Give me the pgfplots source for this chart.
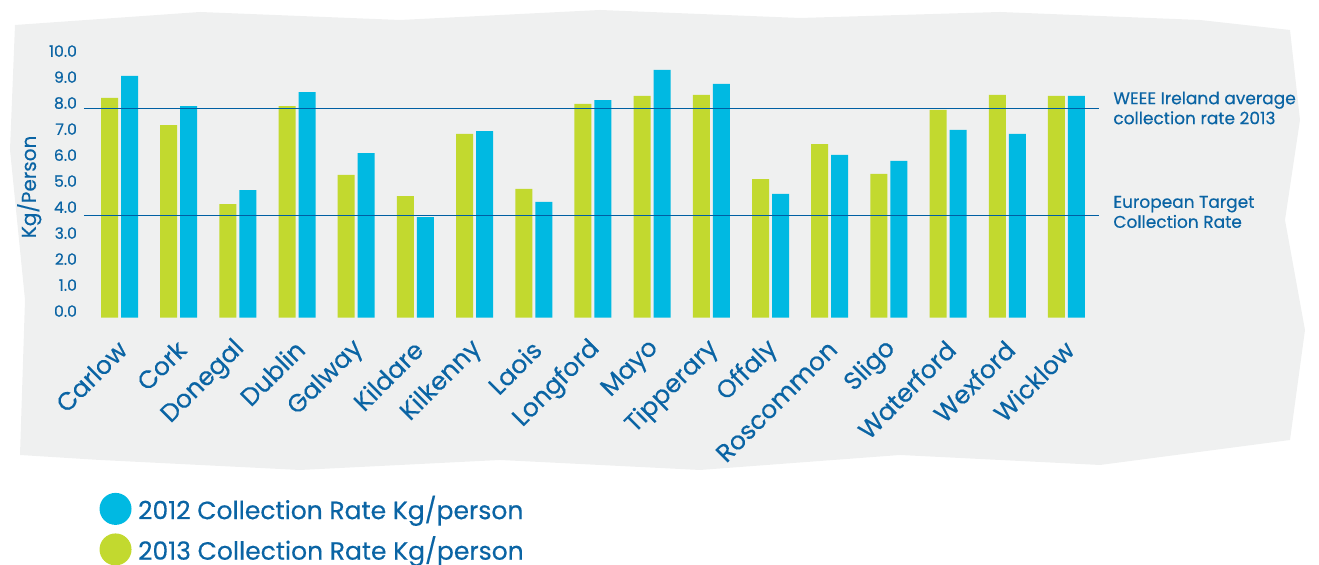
\documentclass[border=0pt]{standalone}
\usepackage{pgfplots}
\pgfplotsset{compat=1.18}
\usepackage{fontspec}
\setmainfont{Poppins}[FakeBold=0.4]
\definecolor{limegreen}{HTML}{C2D92F}
\definecolor{cyanblue}{HTML}{00B9E2}
\definecolor{textblue}{HTML}{0A64A4}
\definecolor{lineblue}{HTML}{005FA3}
\definecolor{paper}{HTML}{EFF0F0}
\begin{document}
\begin{tikzpicture}
% page frame (1 px of the reference = 0.5pt)
\useasboundingbox (0pt,0pt) rectangle (659.5pt,282.5pt);
\begin{scope}[x=0.5pt,y=0.5pt]
  \fill[paper] (15,540) -- (200,553) -- (400,545) -- (600,555) -- (800,547)
    -- (1000,553) -- (1200,545) -- (1290,535) -- (1300,445) -- (1285,345)
    -- (1305,235) -- (1290,125) -- (1100,100) -- (900,110) -- (700,95)
    -- (500,105) -- (300,95) -- (100,105) -- (20,110) -- (25,265) -- (10,415) -- cycle;
\end{scope}
\begin{axis}[
    at={(42pt,123.65pt)}, anchor=south west,
    scale only axis,
    width=507.5pt, height=130pt,
    xmin=-0.6, xmax=16.55,
    ymin=0, ymax=10,
    ybar, bar width=8.5pt,
    axis line style={draw=none},
    tick style={draw=none},
    ytick={0,1,...,10},
    /pgf/number format/fixed,
    /pgf/number format/fixed zerofill,
    /pgf/number format/precision=1,
    /pgf/number format/assume math mode=true,
    yticklabel style={font=\fontsize{7.8}{9}\selectfont, text=textblue, yshift=3.3pt},
    xtick={0,1,...,16},
    xticklabels={Carlow,Cork,Donegal,Dublin,Galway,Kildare,Kilkenny,Laois,Longford,
                 Mayo,Tipperary,Offaly,Roscommon,Sligo,Waterford,Wexford,Wicklow},
    xticklabel style={font=\fontsize{12.5}{15}\selectfont, text=textblue,
                      xshift=4pt, yshift=-7pt, rotate=45, anchor=east},
    ylabel={Kg/Person},
    ylabel style={font=\fontsize{10}{12}\selectfont, text=textblue,
                  at={(axis description cs:-0.054,0.503)}, anchor=center},
    legend style={at={(axis description cs:0.009,-0.652)}, anchor=north west,
                  draw=none, fill=none, text=textblue,
                  font=\fontsize{12.5}{15}\selectfont, row sep=3pt},
    legend cell align=left,
    clip=false,
  ]
  % 2012
  \addplot[fill=cyanblue, draw=none, bar shift=5pt,
    legend image code/.code={\fill[cyanblue] (-4.5pt,0pt) circle (8pt); \path (4.8pt,0pt);}]
    coordinates {
      (0,9.30) (1,8.14) (2,4.91) (3,8.68) (4,6.33) (5,3.87) (6,7.18) (7,4.45) (8,8.37)
      (9,9.53) (10,8.99) (11,4.76) (12,6.26) (13,6.03) (14,7.22) (15,7.07) (16,8.53)
    };
  \addlegendentry{2012 Collection Rate Kg/person}
  % 2013
  \addplot[fill=limegreen, draw=none, bar shift=-5pt,
    legend image code/.code={\fill[limegreen] (-4.5pt,0pt) circle (8pt); \path (4.8pt,0pt);}]
    coordinates {
      (0,8.45) (1,7.41) (2,4.37) (3,8.14) (4,5.49) (5,4.68) (6,7.07) (7,4.95) (8,8.22)
      (9,8.53) (10,8.57) (11,5.33) (12,6.68) (13,5.53) (14,7.99) (15,8.57) (16,8.53)
    };
  \addlegendentry{2013 Collection Rate Kg/person}
  % reference lines
  \addplot[sharp plot, lineblue, line width=0.7pt, forget plot, update limits=false]
    coordinates {(-0.6,8.04) (16.55,8.04)};
  \addplot[sharp plot, lineblue, line width=0.7pt, forget plot, update limits=false]
    coordinates {(-0.6,3.94) (16.55,3.94)};
\end{axis}
\node[anchor=west, align=left, text=textblue, font=\fontsize{8.5}{10}\selectfont, inner sep=0pt]
  at (556.5pt,228.5pt) {WEEE Ireland average\\collection rate 2013};
\node[anchor=west, align=left, text=textblue, font=\fontsize{8.5}{10}\selectfont, inner sep=0pt]
  at (556.5pt,176.5pt) {European Target\\Collection Rate};
\end{tikzpicture}
\end{document}
